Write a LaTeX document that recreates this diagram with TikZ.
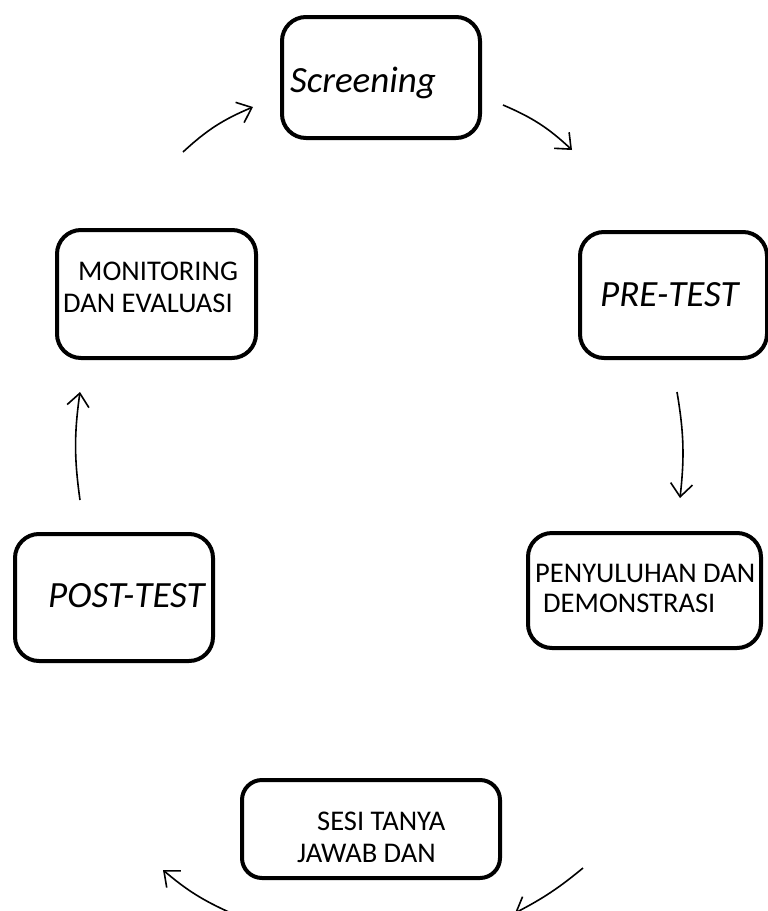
\documentclass[tikz,border=0pt]{standalone}
\usepackage{fontspec}
\setmainfont{Carlito}
\usetikzlibrary{arrows.meta}
\tikzset{
  stepbox/.style={draw, line width=4pt, rounded corners=24pt},
  lbl/.style={anchor=base west, inner sep=0pt, font=\fontsize{28.5}{31}\selectfont},
  ilbl/.style={anchor=base west, inner sep=0pt, font=\fontsize{37}{44}\selectfont\itshape},
  flow/.style={line width=1.6pt, -{Straight Barb[length=13pt, width=22pt, line width=1.6pt]}}
}
\begin{document}
\begin{tikzpicture}[x=1pt, y=-1pt]
\useasboundingbox (0,0) rectangle (768,911);
% boxes
\draw[stepbox] (282,17) rectangle (480,138);
\draw[stepbox] (57,230) rectangle (256,358);
\draw[stepbox] (580,232) rectangle (767,358);
\draw[stepbox] (528,533) rectangle (761,648);
\draw[stepbox] (15,534) rectangle (213,661);
\draw[stepbox, rounded corners=20pt] (242,780) rectangle (500,878);
% texts
\node[ilbl] (scr) at (290,92) {Screening};
\node[lbl] (mon1) at (78,280) {MONITORING};
\node[lbl] (mon2) at (63,312) {DAN EVALUASI};
\node[ilbl] (pre) at (600,306) {PRE-TEST};
\node[lbl] (pen1) at (535,582) {PENYULUHAN DAN};
\node[lbl] (pen2) at (543,612) {DEMONSTRASI};
\node[ilbl] (post) at (48,607) {POST-TEST};
\node[lbl] (ses1) at (317,830) {SESI TANYA};
\node[lbl] (ses2) at (297,862) {JAWAB DAN};
% arrow end points
\coordinate (a1s) at (183,152); \coordinate (a1e) at (253,107);
\coordinate (a2s) at (503,105); \coordinate (a2e) at (572,150);
\coordinate (a3s) at (677,392); \coordinate (a3e) at (680,498);
\coordinate (a4s) at (583,868); \coordinate (a4e) at (515,913);
\coordinate (a5s) at (231,913); \coordinate (a5e) at (163,870);
\coordinate (a6s) at (80,500);  \coordinate (a6e) at (80,392);
\draw[flow] (a1s) to[bend left=10] (a1e);
\draw[flow] (a2s) to[bend left=10] (a2e);
\draw[flow] (a3s) to[bend left=8] (a3e);
\draw[flow] (a4s) to[bend left=6] (a4e);
\draw[flow] (a5s) to[bend left=8] (a5e);
\draw[flow] (a6s) to[bend left=8] (a6e);
\end{tikzpicture}
\end{document}
